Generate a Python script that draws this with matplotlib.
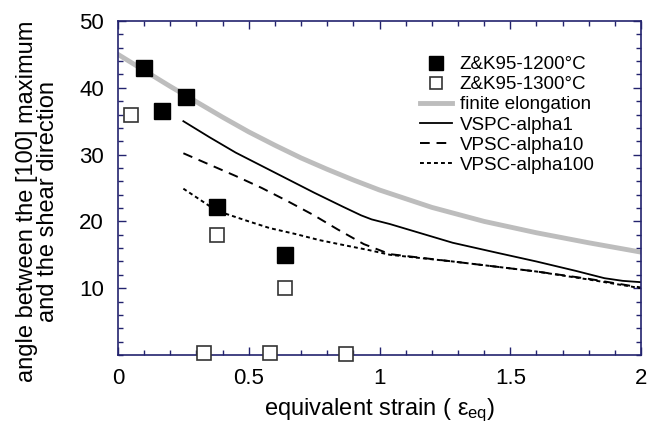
import matplotlib
matplotlib.use("Agg")
import matplotlib.pyplot as plt
from matplotlib.ticker import MultipleLocator

plt.rcParams['font.family'] = ['Liberation Sans', 'DejaVu Sans']
plt.rcParams['mathtext.fontset'] = 'custom'
plt.rcParams['mathtext.rm'] = 'Liberation Sans'
plt.rcParams['mathtext.it'] = 'Liberation Sans'

navy = '#23236e'

# experimental data (Zhang & Karato 1995)
zk1200_x = [0.10, 0.17, 0.26, 0.38, 0.64]
zk1200_y = [43.0, 36.6, 38.6, 22.1, 14.9]
zk1300_x = [0.05, 0.38, 0.64, 0.33, 0.58, 0.87]
zk1300_y = [35.9, 18.0, 10.1, 0.3, 0.3, 0.2]

# finite strain ellipse orientation
fe_x = [0, 0.1, 0.2, 0.3, 0.4, 0.5, 0.6, 0.7, 0.8, 0.9, 1.0, 1.2, 1.4, 1.6, 1.8, 2.0]
fe_y = [45.0, 42.6, 40.2, 37.9, 35.6, 33.4, 31.4, 29.5, 27.8, 26.2, 24.7, 22.1, 20.0, 18.3, 16.8, 15.4]

# VPSC models
a1_x = [0.25, 0.35, 0.45, 0.55, 0.65, 0.75, 0.86, 0.93, 0.97, 1.04, 1.28, 1.45, 1.60, 1.75, 1.86, 1.93, 2.0]
a1_y = [35.0, 32.6, 30.3, 28.3, 26.3, 24.3, 22.2, 20.9, 20.3, 19.6, 16.8, 15.3, 14.0, 12.6, 11.5, 11.1, 10.9]

a10_x = [0.25, 0.35, 0.45, 0.55, 0.65, 0.75, 0.84, 0.94, 1.04, 1.28, 1.6, 1.8, 2.0]
a10_y = [30.2, 28.5, 26.8, 25.0, 23.0, 20.9, 18.8, 16.6, 15.1, 14.0, 12.5, 11.4, 10.1]

a100_x = [0.25, 0.30, 0.35, 0.40, 0.50, 0.58, 0.68, 0.77, 0.87, 0.96, 1.04, 1.28, 1.6, 1.8, 2.0]
a100_y = [24.9, 23.6, 22.3, 21.3, 20.0, 19.0, 18.1, 17.2, 16.4, 15.7, 15.0, 14.0, 12.5, 11.3, 10.0]

fig = plt.figure(figsize=(6.64, 4.25), dpi=100)
ax = fig.add_axes([0.1777, 0.1647, 0.7877, 0.7859])

ax.plot(zk1200_x, zk1200_y, 's', color='black', markersize=11, label='Z&K95-1200°C', zorder=5)
ax.plot(zk1300_x, zk1300_y, 's', markerfacecolor='white', markeredgecolor='#333333',
        markeredgewidth=1.2, markersize=10, label='Z&K95-1300°C', zorder=5, clip_on=False)
ax.plot(fe_x, fe_y, color='#bdbdbd', lw=3.5, label='finite elongation')
ax.plot(a1_x, a1_y, color='black', lw=1.3, label='VSPC-alpha1')
ax.plot(a10_x, a10_y, color='black', lw=1.4, ls=(0, (5, 3.5)), label='VPSC-alpha10')
ax.plot(a100_x, a100_y, color='black', lw=1.4, ls=(0, (2, 1.6)), label='VPSC-alpha100')

ax.set_xlim(0, 2)
ax.set_ylim(0, 50)
ax.xaxis.set_minor_locator(MultipleLocator(0.1))
ax.yaxis.set_minor_locator(MultipleLocator(2))
ax.set_xticks([0, 0.5, 1, 1.5, 2])
ax.set_xticklabels(['0', '0.5', '1', '1.5', '2'])
ax.set_yticks([10, 20, 30, 40, 50])
ax.tick_params(which='both', direction='in', top=True, right=True, color=navy,
               labelsize=16, width=1)
ax.tick_params(which='major', length=6)
ax.tick_params(which='minor', length=3.5)
ax.tick_params(axis='x', which='major', pad=9)
ax.tick_params(axis='y', which='major', pad=10)
for s in ax.spines.values():
    s.set_color(navy)
    s.set_linewidth(1.2)

ax.set_xlabel(r'equivalent strain ( $\mathregular{\varepsilon_{eq}}$)', fontsize=17, labelpad=6)
ax.set_ylabel('angle between the [100] maximum\nand the shear direction', fontsize=17,
              linespacing=0.95)
ax.yaxis.set_label_coords(-0.113, 0.46)

ax.legend(loc='upper right', bbox_to_anchor=(0.911, 0.895), frameon=False, fontsize=13.5,
          borderaxespad=0, borderpad=0, handlelength=1.7, handletextpad=0.4,
          labelspacing=0.16, markerscale=0.9)

fig.savefig('out.png', dpi=100)
